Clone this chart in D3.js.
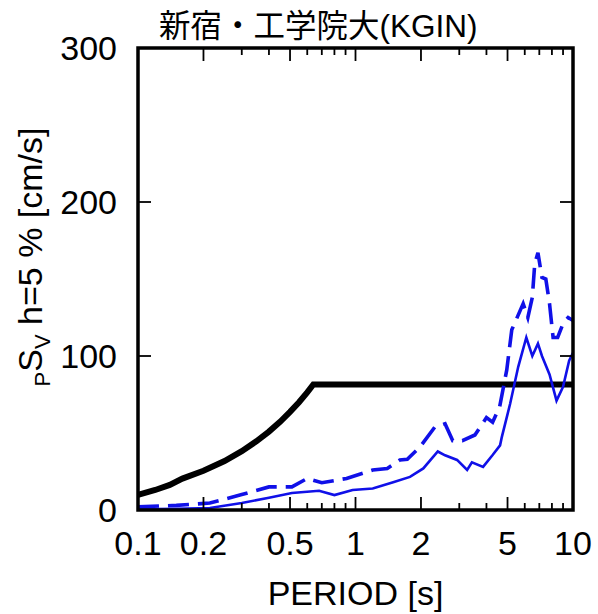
<!DOCTYPE html>
<html>
<head>
<meta charset="utf-8">
<script src="https://cdn.jsdelivr.net/npm/d3@7"></script>
<style>
  body { margin: 0; background: #fff; }
  text { font-family: "Liberation Sans", Arial, sans-serif; fill: #000; }
  .title { font-family: "Liberation Sans", "Noto Sans CJK JP", sans-serif; }
</style>
</head>
<body>
<svg class="chart"></svg>
<script>
// periods [s] and pSv [cm/s]
var designT   = [0.1, 0.12, 0.14, 0.16, 0.2, 0.25, 0.3, 0.35, 0.4, 0.45, 0.5, 0.55, 0.6, 0.64, 10];
var designSv  = [9.9, 13.0, 16.3, 20.4, 25.5, 31.8, 38.2, 44.6, 50.9, 57.3, 63.7, 70.0, 76.4, 81.5, 81.5];

var solidT  = [0.1, 0.15, 0.214, 0.30, 0.40, 0.51, 0.68, 0.80, 0.97, 1.2, 1.49, 1.78, 2.05, 2.39, 2.58, 2.93, 3.26, 3.43, 3.86, 4.27, 4.62, 4.7, 5.14, 5.6, 6.1, 6.5, 6.9, 7.2, 7.8, 8.4, 9.0, 9.6, 10];
var solidSv = [0.5, 0.8, 1.3, 4.5, 8, 11, 12.5, 9.7, 13, 14, 18, 21.5, 27, 38, 35.5, 32.5, 26, 31, 28, 35.7, 42, 47, 69, 93, 112, 100, 108, 100, 88, 71, 80, 97, 102];

var dashT  = [0.1, 0.15, 0.214, 0.30, 0.40, 0.51, 0.60, 0.70, 0.91, 1.2, 1.4, 1.6, 1.73, 1.98, 2.32, 2.58, 2.8, 3.1, 3.54, 4.0, 4.27, 4.6, 4.96, 5.23, 5.9, 6.2, 6.5, 6.67, 6.9, 7.2, 7.5, 7.8, 8.1, 8.5, 9.0, 9.5, 10];
var dashSv = [2, 3, 4.5, 10, 15, 15, 20.5, 17.7, 20.5, 26, 27, 32.5, 33, 41, 54, 56, 45, 45, 48.7, 60, 57, 67, 91, 117, 134, 125, 138, 160, 167, 151, 150, 134, 112, 112, 121, 125, 123];

var xTickLabels = [0.1, 0.2, 0.5, 1, 2, 5, 10];
var xMinorTicks = [0.3, 0.4, 0.6, 0.7, 0.8, 0.9, 3, 4, 6, 7, 8, 9];
var yTicks = [0, 100, 200, 300];

var width = 598, height = 614;
var pLeft = 138, pRight = 573, pTop = 48, pBottom = 510;

var svg = d3.select(".chart")
  .attr("width", width)
  .attr("height", height);

var x = d3.scaleLog().domain([0.1, 10]).range([pLeft, pRight]);
var y = d3.scaleLinear().domain([0, 300]).range([pBottom, pTop]);

var blue = "#1010e8";

// clip lines to the frame
svg.append("clipPath").attr("id", "plot")
  .append("rect")
  .attr("x", pLeft).attr("y", pTop)
  .attr("width", pRight - pLeft).attr("height", pBottom - pTop);

var line = d3.line()
  .x(function(d) { return x(d[0]); })
  .y(function(d) { return y(d[1]); });

var lines = svg.append("g").attr("clip-path", "url(#plot)");

lines.append("path")
  .attr("d", line(d3.zip(designT, designSv)))
  .attr("fill", "none")
  .attr("stroke", "#000")
  .attr("stroke-width", 6);

lines.append("path")
  .attr("d", line(d3.zip(dashT, dashSv)))
  .attr("fill", "none")
  .attr("stroke", blue)
  .attr("stroke-width", 3.6)
  .attr("stroke-dasharray", "21,9");

lines.append("path")
  .attr("d", line(d3.zip(solidT, solidSv)))
  .attr("fill", "none")
  .attr("stroke", blue)
  .attr("stroke-width", 2.6);

// inward ticks, top and bottom
var ticks = svg.append("g").attr("stroke", "#000").attr("stroke-width", 1.8);

function xTicks(list, len) {
  ticks.selectAll(null).data(list).enter().append("line")
    .attr("x1", x).attr("x2", x)
    .attr("y1", pBottom).attr("y2", pBottom - len);
  ticks.selectAll(null).data(list).enter().append("line")
    .attr("x1", x).attr("x2", x)
    .attr("y1", pTop).attr("y2", pTop + len);
}
xTicks(xTickLabels, 13);
xTicks(xMinorTicks, 7);

ticks.selectAll(null).data(yTicks).enter().append("line")
  .attr("x1", pLeft).attr("x2", pLeft + 13)
  .attr("y1", y).attr("y2", y);
ticks.selectAll(null).data(yTicks).enter().append("line")
  .attr("x1", pRight).attr("x2", pRight - 13)
  .attr("y1", y).attr("y2", y);

// frame
svg.append("rect")
  .attr("x", pLeft).attr("y", pTop)
  .attr("width", pRight - pLeft).attr("height", pBottom - pTop)
  .attr("fill", "none")
  .attr("stroke", "#000")
  .attr("stroke-width", 3.5);

// tick labels
svg.append("g").selectAll("text")
  .data(xTickLabels).enter().append("text")
  .attr("x", x)
  .attr("y", 555)
  .attr("text-anchor", "middle")
  .style("font-size", "34px")
  .text(function(d) { return d; });

svg.append("g").selectAll("text")
  .data(yTicks).enter().append("text")
  .attr("x", pLeft - 21)
  .attr("y", function(d) { return y(d) + 12; })
  .attr("text-anchor", "end")
  .style("font-size", "34px")
  .text(function(d) { return d; });

// axis titles
svg.append("text")
  .attr("x", (pLeft + pRight) / 2)
  .attr("y", 605)
  .attr("text-anchor", "middle")
  .style("font-size", "34px")
  .text("PERIOD [s]");

var ylab = svg.append("text")
  .attr("transform", "translate(42,257) rotate(-90)")
  .attr("text-anchor", "middle")
  .style("font-size", "34px");
ylab.append("tspan").attr("dy", 8).style("font-size", "22px").text("P");
ylab.append("tspan").attr("dy", -8).text("S");
ylab.append("tspan").attr("dy", 8).style("font-size", "22px").text("V");
ylab.append("tspan").attr("dy", -8).text(" h=5 % [cm/s]");

svg.append("text")
  .attr("class", "title")
  .attr("x", 159)
  .attr("y", 37)
  .style("font-size", "31.5px")
  .text("新宿・工学院大(KGIN)");
</script>
</body>
</html>
